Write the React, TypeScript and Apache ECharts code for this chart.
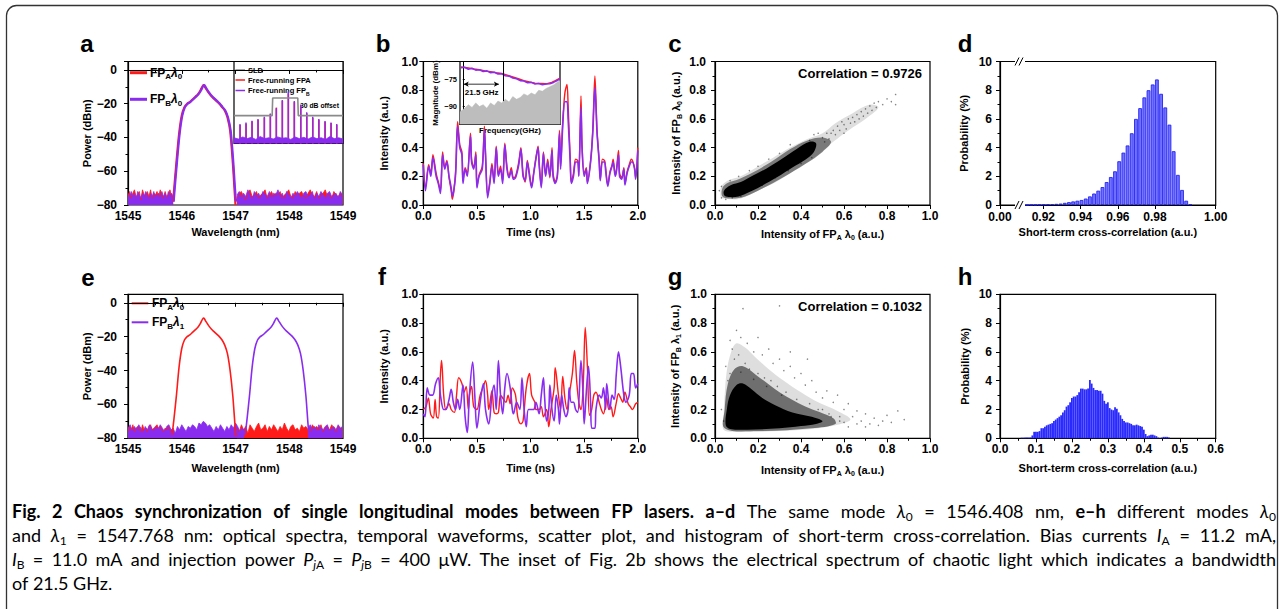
import React, { useEffect, useRef } from "react";
import * as echarts from "echarts";

// ================= DATA =================
// Panel a: optical spectra, same mode
const aRedPeak = [[1545.84,-78],[1545.86,-70],[1545.9,-55],[1545.95,-38],[1546.0,-27],[1546.05,-22],[1546.1,-20],[1546.15,-19],[1546.2,-17.5],[1546.25,-16],[1546.3,-14.5],[1546.35,-12],[1546.39,-9.5],[1546.41,-9],[1546.44,-10.5],[1546.5,-13.5],[1546.55,-15.5],[1546.6,-17],[1546.65,-18.5],[1546.7,-20],[1546.75,-22],[1546.8,-24],[1546.85,-28],[1546.9,-36],[1546.95,-55],[1546.98,-70],[1547.0,-80]];
const aPurplePeak = [[1545.85,-78],[1545.87,-70],[1545.91,-55],[1545.96,-38],[1546.01,-27],[1546.06,-22],[1546.11,-20],[1546.16,-19],[1546.21,-17.5],[1546.26,-16],[1546.31,-14.5],[1546.36,-12],[1546.4,-9.5],[1546.42,-9],[1546.45,-10.5],[1546.51,-13.5],[1546.56,-15.5],[1546.61,-17],[1546.66,-18.5],[1546.71,-20],[1546.76,-22],[1546.81,-24],[1546.86,-28],[1546.91,-36],[1546.96,-55],[1546.99,-70],[1547.01,-78]];
const noiseXL = [1545.00,1545.03,1545.06,1545.09,1545.12,1545.15,1545.18,1545.21,1545.24,1545.27,1545.30,1545.33,1545.36,1545.39,1545.42,1545.45,1545.48,1545.51,1545.54,1545.57,1545.60,1545.63,1545.66,1545.69,1545.72,1545.75,1545.78,1545.81,1545.84];
const aPurpleNoiseL = [-73,-76,-72,-75,-73,-77,-72,-74,-76,-73,-75,-72,-74,-77,-73,-75,-72,-76,-74,-73,-76,-72,-75,-73,-77,-72,-74,-73,-75];
const aRedNoiseL = [-75,-72,-76,-73,-71,-75,-74,-72,-77,-71,-74,-75,-72,-75,-71,-76,-73,-74,-72,-75,-71,-74,-76,-72,-75,-74,-71,-75,-76];
const noiseXR = [1547.03,1547.07,1547.11,1547.15,1547.19,1547.23,1547.27,1547.31,1547.35,1547.39,1547.43,1547.47,1547.51,1547.55,1547.59,1547.63,1547.67,1547.71,1547.75,1547.79,1547.83,1547.87,1547.91,1547.95,1547.99,1548.03,1548.07,1548.11,1548.15,1548.19,1548.23,1548.27,1548.31,1548.35,1548.39,1548.43,1548.47,1548.51,1548.55,1548.59,1548.63,1548.67,1548.71,1548.75,1548.79,1548.83,1548.87,1548.91,1548.95,1548.99];
const aPurpleNoiseR = [-74,-72,-76,-73,-75,-71,-74,-77,-72,-75,-73,-76,-72,-74,-75,-72,-76,-73,-74,-71,-75,-73,-77,-72,-74,-76,-73,-75,-72,-74,-76,-73,-72,-75,-74,-72,-77,-73,-75,-72,-74,-76,-73,-72,-75,-74,-73,-76,-72,-74];
const aRedNoiseR = [-76,-73,-72,-75,-77,-73,-71,-75,-74,-72,-76,-74,-73,-71,-76,-74,-72,-75,-73,-74,-72,-76,-74,-73,-71,-75,-76,-72,-74,-73,-72,-75,-76,-73,-71,-74,-75,-72,-76,-74,-73,-71,-75,-74,-76,-72,-74,-75,-73,-75];

// Panel a inset (relative units)
const insetCombX = [5.5,11,16.5,22,27.8,33.3,38.8,44.3,49.8,55.3,61.2,66.7,72.2,77.8,83.5,89,94.2];
const insetFPB = [23.7,25.7,27.8,29.8,32.7,36.7,42.9,53.1,63.3,51.8,46.9,38,32.7,29.8,27.3,25.7,23.7];
const insetFPA = [22.5,24.5,27,29,31.5,36,43.8,52,61,50.5,45.5,37,31.5,29,26.5,25,23];
const insetNoiseX = [0,4,8,12,16,20,24,28,32,36,40,44,48,52,56,60,64,68,72,76,80,84,88,92,96,100];
const insetNoiseB = [7,5.5,8,6,7.5,5,8.5,6,7,5.5,8,6.5,7,5,8,6,7.5,5.5,8,6,7,5,8.5,6,7,5.5];
const insetSLD = [[0,34],[35,34],[35.5,55.5],[58.5,55.5],[59,34],[100,34]];

// Panel b: temporal waveforms (same mode)
const bPurple = [[0.00,0.28],[0.02,0.10],[0.05,0.27],[0.07,0.20],[0.09,0.33],[0.12,0.20],[0.14,0.15],[0.16,0.08],[0.18,0.35],[0.20,0.25],[0.22,0.30],[0.24,0.20],[0.26,0.12],[0.27,0.06],[0.30,0.20],[0.32,0.55],[0.34,0.40],[0.36,0.35],[0.37,0.15],[0.39,0.25],[0.41,0.20],[0.44,0.48],[0.45,0.30],[0.47,0.25],[0.49,0.35],[0.50,0.12],[0.52,0.20],[0.55,0.25],[0.57,0.52],[0.58,0.35],[0.60,0.05],[0.62,0.15],[0.64,0.27],[0.66,0.15],[0.68,0.40],[0.70,0.20],[0.72,0.25],[0.74,0.15],[0.76,0.42],[0.78,0.25],[0.80,0.19],[0.82,0.24],[0.84,0.18],[0.86,0.19],[0.89,0.28],[0.91,0.39],[0.93,0.20],[0.95,0.17],[0.97,0.30],[0.99,0.20],[1.01,0.12],[1.03,0.22],[1.05,0.32],[1.07,0.40],[1.08,0.28],[1.10,0.12],[1.12,0.36],[1.14,0.20],[1.16,0.30],[1.18,0.20],[1.20,0.38],[1.21,0.20],[1.23,0.15],[1.25,0.20],[1.27,0.50],[1.28,0.25],[1.30,0.55],[1.32,0.72],[1.34,0.72],[1.35,0.60],[1.37,0.30],[1.38,0.15],[1.40,0.20],[1.42,0.30],[1.44,0.30],[1.45,0.20],[1.47,0.68],[1.48,0.40],[1.50,0.20],[1.52,0.25],[1.53,0.15],[1.56,0.30],[1.58,0.50],[1.60,0.82],[1.62,0.50],[1.64,0.30],[1.65,0.17],[1.67,0.30],[1.69,0.30],[1.70,0.24],[1.72,0.13],[1.74,0.22],[1.76,0.27],[1.77,0.30],[1.79,0.20],[1.80,0.23],[1.82,0.35],[1.83,0.20],[1.85,0.18],[1.87,0.25],[1.88,0.14],[1.90,0.22],[1.92,0.27],[1.94,0.30],[1.95,0.30],[1.97,0.25],[1.98,0.18],[2.00,0.38]];
const bRed = [[0.00,0.29],[0.02,0.12],[0.05,0.28],[0.07,0.22],[0.09,0.35],[0.12,0.22],[0.14,0.16],[0.16,0.10],[0.18,0.37],[0.20,0.26],[0.22,0.31],[0.24,0.19],[0.26,0.10],[0.27,0.04],[0.30,0.22],[0.32,0.58],[0.34,0.42],[0.36,0.37],[0.37,0.17],[0.39,0.26],[0.41,0.22],[0.44,0.50],[0.45,0.32],[0.47,0.26],[0.49,0.37],[0.50,0.13],[0.52,0.21],[0.55,0.27],[0.57,0.55],[0.58,0.36],[0.60,0.07],[0.62,0.16],[0.64,0.29],[0.66,0.16],[0.68,0.41],[0.70,0.21],[0.72,0.27],[0.74,0.17],[0.76,0.43],[0.78,0.27],[0.80,0.20],[0.82,0.26],[0.84,0.19],[0.86,0.20],[0.89,0.30],[0.91,0.40],[0.93,0.22],[0.95,0.16],[0.97,0.31],[0.99,0.22],[1.01,0.13],[1.03,0.23],[1.05,0.33],[1.07,0.41],[1.08,0.30],[1.10,0.13],[1.12,0.37],[1.14,0.21],[1.16,0.32],[1.18,0.19],[1.20,0.40],[1.21,0.22],[1.23,0.16],[1.25,0.21],[1.27,0.52],[1.28,0.27],[1.30,0.58],[1.32,0.78],[1.34,0.84],[1.35,0.70],[1.37,0.32],[1.38,0.16],[1.40,0.22],[1.42,0.32],[1.44,0.31],[1.45,0.21],[1.47,0.76],[1.48,0.42],[1.50,0.22],[1.52,0.26],[1.53,0.16],[1.56,0.31],[1.58,0.52],[1.60,0.90],[1.62,0.52],[1.64,0.31],[1.65,0.18],[1.67,0.32],[1.69,0.31],[1.70,0.26],[1.72,0.14],[1.74,0.23],[1.76,0.28],[1.77,0.32],[1.79,0.21],[1.80,0.24],[1.82,0.38],[1.83,0.22],[1.85,0.19],[1.87,0.26],[1.88,0.15],[1.90,0.23],[1.92,0.28],[1.94,0.32],[1.95,0.31],[1.97,0.26],[1.98,0.19],[2.00,0.40]];

// Panel b inset: electrical spectrum
const bInsetPurple = [[-1,-68.5],[1,-68.2],[3,-69.3],[5,-68.8],[7,-69.8],[9,-69.6],[11,-70.6],[13,-70.2],[15,-71.2],[17,-71],[19,-71.9],[21,-71.8],[23,-72.9],[25,-73.1],[27,-74.2],[29,-74.6],[31,-75.6],[33,-75.8],[35,-76.8],[37,-76.6],[39,-77.5],[41,-77.2],[43,-77.9],[45,-77.5],[47,-77.4],[49,-76.6],[51,-75.6],[52.5,-74.5]];
const bInsetRed = [[-1,-68],[3,-68.6],[6,-69.2],[9,-69.6],[12,-70.2],[15,-70.6],[18,-71.2],[21,-71.6],[24,-72.6],[27,-73.6],[30,-74.6],[33,-75.6],[36,-76.4],[39,-77],[42,-77.2],[45,-77.4],[48,-76.6],[50,-75.6],[52.5,-74.2]];
const bInsetNoise = [[-1.5,-93],[1,-91],[3,-89],[5,-90.5],[7,-88],[9,-90],[11,-89],[13,-91],[15,-88],[17,-89.5],[19,-87],[21,-88],[23,-86],[25,-87.5],[27,-84.5],[29,-86],[31,-85],[33,-83],[35,-84],[37,-82.5],[39,-83.5],[41,-81],[43,-81.5],[45,-80],[47,-79],[49,-78],[51,-76.5],[52.5,-75.5]];
const bInsetBandwidth = [[22,-65],[22,-87]];
const bInsetArrow = [[0.5,-77.6],[19.5,-77.6]];

// Panel c: scatter (same mode) — density outlines and sparse points
const cCore = [[0.045,0.065],[0.07,0.055],[0.11,0.06],[0.16,0.09],[0.21,0.127],[0.29,0.195],[0.36,0.262],[0.42,0.315],[0.46,0.37],[0.47,0.43],[0.44,0.44],[0.38,0.39],[0.31,0.32],[0.24,0.255],[0.17,0.2],[0.12,0.16],[0.075,0.14],[0.05,0.115],[0.04,0.09]];
const cMid = [[0.035,0.06],[0.08,0.045],[0.14,0.06],[0.22,0.115],[0.32,0.195],[0.42,0.285],[0.5,0.37],[0.54,0.44],[0.5,0.47],[0.43,0.45],[0.35,0.39],[0.26,0.3],[0.18,0.23],[0.11,0.18],[0.06,0.155],[0.035,0.12]];
const cHalo = [[0.03,0.05],[0.07,0.04],[0.12,0.045],[0.2,0.1],[0.3,0.175],[0.4,0.27],[0.48,0.35],[0.55,0.44],[0.62,0.52],[0.7,0.6],[0.76,0.68],[0.72,0.7],[0.64,0.64],[0.56,0.57],[0.5,0.5],[0.43,0.46],[0.35,0.4],[0.27,0.33],[0.19,0.26],[0.12,0.2],[0.06,0.17],[0.03,0.13],[0.025,0.08]];
const cSparse = [[0.5,0.47],[0.52,0.5],[0.53,0.46],[0.55,0.52],[0.56,0.49],[0.57,0.55],[0.58,0.52],[0.6,0.56],[0.61,0.53],[0.62,0.6],[0.63,0.57],[0.64,0.61],[0.65,0.58],[0.66,0.63],[0.67,0.6],[0.68,0.65],[0.69,0.62],[0.7,0.67],[0.71,0.64],[0.72,0.69],[0.73,0.66],[0.74,0.71],[0.75,0.68],[0.76,0.72],[0.78,0.7],[0.8,0.74],[0.82,0.72],[0.84,0.77],[0.84,0.7],[0.48,0.5],[0.46,0.49],[0.44,0.45],[0.51,0.44],[0.54,0.5],[0.59,0.58],[0.6,0.5],[0.03,0.05],[0.05,0.04],[0.08,0.05],[0.12,0.06],[0.02,0.1],[0.03,0.13],[0.07,0.17],[0.11,0.2],[0.16,0.24],[0.2,0.27],[0.25,0.32],[0.3,0.36],[0.35,0.42],[0.14,0.1],[0.22,0.14],[0.28,0.19],[0.34,0.24],[0.4,0.29],[0.45,0.33]];

// Panel d: histogram of short-term cross-correlation (same mode)
const dBinX = [0.91125,0.9135,0.91575,0.918,0.92025,0.9225,0.92475,0.927,0.92925,0.9315,0.93375,0.936,0.93825,0.9405,0.94275,0.945,0.94725,0.9495,0.95175,0.954,0.95625,0.9585,0.96075,0.963,0.96525,0.9675,0.96975,0.972,0.97425,0.9765,0.97875,0.981,0.98325,0.9855,0.98775,0.99,0.99225,0.9945,0.99675,0.999];
const dProb = [0.01,0.02,0.02,0.03,0.04,0.05,0.06,0.08,0.1,0.15,0.2,0.25,0.3,0.35,0.45,0.6,0.8,1.0,1.25,1.6,1.95,2.35,3.05,3.65,4.15,5.0,6.0,6.75,7.5,8.0,8.4,8.75,7.75,6.8,5.6,3.75,2.1,1.05,0.3,0.05];
const dTickValues = [0.8967,0.92,0.94,0.96,0.98,1.0126];
const dTickLabels = ["0.00","0.92","0.94","0.96","0.98","1.00"];

// Panel e: optical spectra, different modes
const eRedPeak = [[1545.82,-78],[1545.85,-70],[1545.9,-55],[1545.95,-38],[1546.0,-27],[1546.05,-22],[1546.1,-20],[1546.15,-19],[1546.2,-17.5],[1546.25,-16],[1546.3,-14.5],[1546.35,-12],[1546.39,-9.5],[1546.41,-9],[1546.44,-10.5],[1546.5,-13.5],[1546.55,-15.5],[1546.6,-17],[1546.65,-18.5],[1546.7,-20],[1546.75,-22],[1546.8,-25],[1546.85,-30],[1546.9,-40],[1546.95,-55],[1546.99,-72],[1547.01,-79]];
const ePurplePeak = [[1547.18,-78],[1547.21,-70],[1547.26,-55],[1547.31,-38],[1547.36,-27],[1547.41,-22],[1547.46,-20],[1547.51,-19],[1547.56,-17.5],[1547.61,-16],[1547.66,-14.5],[1547.71,-12],[1547.75,-9.5],[1547.77,-9],[1547.8,-10.5],[1547.86,-13.5],[1547.91,-15.5],[1547.96,-17],[1548.01,-18.5],[1548.06,-20],[1548.11,-22],[1548.16,-25],[1548.21,-30],[1548.26,-40],[1548.31,-55],[1548.35,-72],[1548.37,-79]];
const eNoiseXL = [1545.00,1545.04,1545.08,1545.12,1545.16,1545.20,1545.24,1545.28,1545.32,1545.36,1545.40,1545.44,1545.48,1545.52,1545.56,1545.60,1545.64,1545.68,1545.72,1545.76,1545.80,1545.84,1545.88,1545.92,1545.96,1546.00,1546.04,1546.08,1546.12,1546.16,1546.20,1546.24,1546.28,1546.32,1546.36,1546.40,1546.44,1546.48,1546.52,1546.56,1546.60,1546.64,1546.68,1546.72,1546.76,1546.80,1546.84,1546.88,1546.92,1546.96,1547.00,1547.04,1547.08,1547.12,1547.16];
const ePurpleNoiseL = [-74,-72,-76,-73,-75,-72,-74,-77,-73,-75,-72,-74,-76,-73,-75,-72,-74,-76,-73,-72,-75,-74,-77,-73,-75,-72,-74,-76,-73,-74,-72,-73,-75,-71,-72,-70,-71,-73,-72,-74,-76,-73,-75,-72,-74,-76,-73,-75,-72,-74,-71,-73,-76,-74,-75];
const eRedNoiseL = [-76,-73,-75,-72,-76,-74,-73,-75,-76,-72,-75,-74,-76,-73,-72,-75,-74,-73,-72,-74,-73,-75,-76,-74,-75,-73,-75,-76,-74];
const eRedNoiseR = [-74,-76,-72,-75,-73,-77,-72,-74,-76,-73,-71,-75,-74,-72,-76,-73,-75,-72,-74,-76,-73,-75,-71,-74,-76,-73,-72,-75,-74,-76,-72,-74,-73,-75,-76,-72,-74,-73,-75,-72,-76,-74,-73,-75,-72,-74,-76,-73,-74,-75];
const ePurpleNoiseR = [-74,-72,-75,-73,-76,-72,-74,-75,-73,-72,-76,-74,-73,-75,-72,-74,-73];

// Panel f: temporal waveforms (different modes)
const fPurple = [[0.00,0.17],[0.016,0.15],[0.037,0.35],[0.062,0.30],[0.087,0.30],[0.115,0.38],[0.14,0.42],[0.16,0.30],[0.19,0.20],[0.21,0.20],[0.24,0.27],[0.26,0.34],[0.28,0.25],[0.30,0.20],[0.32,0.27],[0.34,0.20],[0.37,0.37],[0.39,0.15],[0.41,0.04],[0.43,0.30],[0.46,0.53],[0.48,0.30],[0.50,0.07],[0.53,0.25],[0.56,0.38],[0.58,0.20],[0.61,0.10],[0.64,0.30],[0.66,0.37],[0.68,0.20],[0.70,0.54],[0.72,0.30],[0.74,0.17],[0.76,0.35],[0.78,0.45],[0.81,0.35],[0.83,0.20],[0.84,0.17],[0.87,0.25],[0.90,0.20],[0.92,0.42],[0.94,0.20],[0.96,0.08],[0.98,0.20],[1.01,0.20],[1.03,0.20],[1.05,0.25],[1.08,0.17],[1.10,0.30],[1.12,0.42],[1.13,0.30],[1.15,0.12],[1.17,0.20],[1.18,0.37],[1.20,0.20],[1.22,0.12],[1.24,0.30],[1.26,0.20],[1.27,0.10],[1.29,0.30],[1.31,0.20],[1.33,0.15],[1.35,0.20],[1.36,0.35],[1.38,0.25],[1.40,0.25],[1.42,0.20],[1.44,0.18],[1.47,0.54],[1.49,0.30],[1.50,0.10],[1.52,0.32],[1.54,0.50],[1.56,0.25],[1.57,0.07],[1.60,0.07],[1.61,0.20],[1.64,0.30],[1.66,0.28],[1.68,0.35],[1.70,0.20],[1.71,0.38],[1.74,0.20],[1.76,0.30],[1.78,0.27],[1.80,0.45],[1.82,0.60],[1.84,0.50],[1.87,0.30],[1.89,0.25],[1.92,0.30],[1.94,0.45],[1.96,0.45],[1.98,0.35],[2.00,0.38]];
const fRed = [[0.00,0.20],[0.025,0.22],[0.047,0.28],[0.068,0.17],[0.093,0.14],[0.11,0.27],[0.124,0.15],[0.14,0.14],[0.16,0.45],[0.17,0.54],[0.19,0.30],[0.21,0.20],[0.24,0.24],[0.26,0.20],[0.29,0.18],[0.31,0.30],[0.33,0.42],[0.36,0.38],[0.38,0.32],[0.40,0.36],[0.42,0.20],[0.43,0.30],[0.45,0.36],[0.47,0.22],[0.50,0.20],[0.53,0.30],[0.56,0.36],[0.58,0.40],[0.60,0.30],[0.61,0.20],[0.64,0.33],[0.66,0.18],[0.68,0.17],[0.70,0.18],[0.72,0.30],[0.74,0.28],[0.77,0.25],[0.79,0.30],[0.81,0.24],[0.83,0.35],[0.86,0.30],[0.88,0.15],[0.91,0.10],[0.93,0.12],[0.96,0.35],[0.99,0.45],[1.01,0.30],[1.04,0.25],[1.05,0.20],[1.08,0.20],[1.10,0.22],[1.12,0.15],[1.15,0.20],[1.17,0.08],[1.19,0.20],[1.22,0.35],[1.23,0.49],[1.26,0.30],[1.28,0.20],[1.30,0.43],[1.32,0.28],[1.34,0.20],[1.36,0.30],[1.39,0.45],[1.41,0.61],[1.43,0.40],[1.45,0.25],[1.47,0.20],[1.49,0.35],[1.51,0.77],[1.53,0.50],[1.55,0.16],[1.57,0.20],[1.59,0.30],[1.61,0.32],[1.64,0.25],[1.66,0.20],[1.68,0.17],[1.71,0.28],[1.73,0.20],[1.75,0.22],[1.77,0.15],[1.80,0.25],[1.82,0.31],[1.84,0.28],[1.86,0.25],[1.88,0.32],[1.91,0.24],[1.93,0.22],[1.95,0.20],[1.98,0.24],[2.00,0.25]];

// Panel g: scatter (different modes) — density outlines and sparse points
const gCore = [[0.05,0.09],[0.07,0.065],[0.15,0.06],[0.3,0.07],[0.4,0.085],[0.47,0.1],[0.5,0.12],[0.45,0.15],[0.36,0.18],[0.28,0.23],[0.22,0.28],[0.17,0.34],[0.13,0.38],[0.1,0.37],[0.07,0.3],[0.055,0.2]];
const gMid = [[0.045,0.07],[0.2,0.05],[0.45,0.07],[0.56,0.1],[0.55,0.14],[0.42,0.22],[0.3,0.32],[0.2,0.43],[0.13,0.5],[0.09,0.48],[0.06,0.38],[0.045,0.2]];
const gHalo = [[0.04,0.06],[0.1,0.045],[0.3,0.05],[0.45,0.065],[0.56,0.09],[0.63,0.13],[0.57,0.19],[0.48,0.25],[0.4,0.32],[0.32,0.4],[0.25,0.48],[0.19,0.56],[0.14,0.63],[0.1,0.66],[0.075,0.6],[0.055,0.47],[0.045,0.3],[0.04,0.15]];
const gSparse = [[0.13,0.9],[0.3,0.92],[0.07,0.68],[0.08,0.62],[0.1,0.75],[0.12,0.7],[0.15,0.66],[0.18,0.6],[0.2,0.7],[0.22,0.58],[0.25,0.62],[0.27,0.52],[0.3,0.55],[0.32,0.47],[0.35,0.5],[0.37,0.42],[0.4,0.45],[0.42,0.37],[0.45,0.4],[0.47,0.32],[0.5,0.28],[0.52,0.33],[0.55,0.25],[0.57,0.3],[0.6,0.2],[0.62,0.24],[0.64,0.15],[0.66,0.19],[0.68,0.12],[0.7,0.17],[0.72,0.1],[0.74,0.14],[0.76,0.09],[0.78,0.12],[0.8,0.16],[0.82,0.11],[0.85,0.19],[0.88,0.13],[0.35,0.6],[0.43,0.55],[0.05,0.5],[0.06,0.4],[0.03,0.2],[0.04,0.12],[0.58,0.12],[0.54,0.15],[0.48,0.2],[0.62,0.08],[0.2,0.45],[0.26,0.4],[0.09,0.55],[0.11,0.58],[0.14,0.52],[0.16,0.48],[0.23,0.42],[0.29,0.36],[0.33,0.32],[0.38,0.27],[0.44,0.24],[0.5,0.2],[0.53,0.17],[0.58,0.15],[0.6,0.11],[0.66,0.1],[0.7,0.08],[0.07,0.45],[0.12,0.46],[0.18,0.41],[0.24,0.36],[0.31,0.3]];

// Panel h: histogram (different modes)
const hBinX = [0.06,0.065,0.07,0.075,0.08,0.085,0.09,0.095,0.1,0.105,0.11,0.115,0.12,0.125,0.13,0.135,0.14,0.145,0.15,0.155,0.16,0.165,0.17,0.175,0.18,0.185,0.19,0.195,0.2,0.205,0.21,0.215,0.22,0.225,0.23,0.235,0.24,0.245,0.25,0.255,0.26,0.265,0.27,0.275,0.28,0.285,0.29,0.295,0.3,0.305,0.31,0.315,0.32,0.325,0.33,0.335,0.34,0.345,0.35,0.355,0.36,0.365,0.37,0.375,0.38,0.385,0.39,0.395,0.4,0.405,0.41,0.415,0.42,0.425,0.43,0.435,0.44,0.445,0.45,0.455,0.46,0.465,0.47];
const hProb = [0.04,0.04,0.05,0.05,0.05,0.06,0.2,0.45,0.45,0.45,0.5,0.7,0.7,0.8,0.9,0.95,1.0,1.05,1.2,1.3,1.4,1.5,1.6,1.8,1.95,2.2,2.3,2.5,2.8,2.9,2.9,3.0,3.2,3.45,3.45,3.4,3.4,3.45,4.05,3.8,3.5,3.35,3.35,3.3,3.3,3.1,2.6,2.4,2.5,2.1,2.0,1.95,2.15,2.05,1.8,1.6,1.35,1.2,1.1,1.1,1.05,1.0,0.9,0.9,0.95,0.9,0.85,0.8,0.6,0.3,0.15,0.2,0.25,0.25,0.2,0.15,0.05,0.02,0.05,0.1,0.1,0.1,0.05];

// Caption
const captionLines = [
  "{b|Fig. 2 Chaos synchronization of single longitudinal modes between FP lasers. a–d} The same mode {i|λ}{s|0} = 1546.408 nm, {b|e–h} different modes {i|λ}{s|0}",
  "and {i|λ}{s|1} = 1547.768 nm: optical spectra, temporal waveforms, scatter plot, and histogram of short-term cross-correlation. Bias currents {i|I}{s|A} = 11.2 mA,",
  "{i|I}{s|B} = 11.0 mA and injection power {i|P}{si|j}{s|A} = {i|P}{si|j}{s|B} = 400 μW. The inset of Fig. {l|2}b shows the electrical spectrum of chaotic light which indicates a bandwidth",
  "of 21.5 GHz.",
];

// ================= STYLE / BUILD =================
const FONT = "Liberation Sans";
const CAP_FONT = "Lato";
const RED = "#ff1a1a";
const PURPLE = "#8a2cf0";

const zip = (xs: number[], ys: number[]) => xs.map((x, i) => [x, ys[i]]);

const NAME_RICH = {
  n: { fontFamily: FONT, fontWeight: "bold", fontSize: 11, color: "#000", lineHeight: 15, verticalAlign: "middle" },
  s: { fontFamily: FONT, fontWeight: "bold", fontSize: 7, color: "#000", lineHeight: 10, verticalAlign: "bottom" },
};
const nameStyle = (size = 11) => ({ fontFamily: FONT, fontWeight: "bold", fontSize: size, color: "#000", rich: NAME_RICH });
const AX_LINE = { show: true, lineStyle: { color: "#000", width: 1.2 } };
const TICK = { show: true, length: 4, lineStyle: { color: "#000", width: 1 } };
const MINOR = { show: true, splitNumber: 2, length: 2.5, lineStyle: { color: "#000", width: 1 } };
const lbl = (margin: number, formatter?: any, extra: any = {}) => ({ fontFamily: FONT, fontWeight: "bold", fontSize: 12, color: "#000", margin, formatter, ...extra });
const plainFmt = (v: number) => String(v);
const minusFmt = (v: number) => (v < 0 ? "−" + Math.abs(v) : String(v));
const f1 = (v: number) => v.toFixed(1);

function axisDef(gi: number, min: number, max: number, interval: number | undefined, name: string, nameGap: number, label: any, extra: any = {}) {
  return {
    type: "value", gridIndex: gi, min, max, interval, name, nameLocation: "middle", nameGap,
    nameTextStyle: nameStyle(), axisLine: AX_LINE, axisTick: TICK, minorTick: MINOR,
    splitLine: { show: false }, axisLabel: label, ...extra,
  };
}

function polygonSeries(gi: number, pts: number[][], fill: string, z: number) {
  return {
    type: "custom", xAxisIndex: gi, yAxisIndex: gi, data: pts, z, silent: true, clip: true,
    renderItem: (params: any, api: any) =>
      params.dataIndex === 0
        ? { type: "polygon", shape: { points: pts.map((p) => api.coord(p)), smooth: 0.35 }, style: { fill } }
        : null,
  };
}

const line = (gi: number, data: any, color: string, width: number, extra: any = {}) => ({
  type: "line", xAxisIndex: gi, yAxisIndex: gi, data, symbol: "none", silent: true,
  lineStyle: { color, width }, itemStyle: { color }, ...extra,
});
const noiseArea = (gi: number, data: any, color: string) =>
  line(gi, data, color, 0.8, { areaStyle: { color, opacity: 1, origin: "start" } });

// Caption justification
const CAP_SIZE = 18;
const CAP_STYLES: Record<string, { font: string; rich: any }> = {
  n: { font: `400 ${CAP_SIZE}px ${CAP_FONT}`, rich: { fontFamily: CAP_FONT, fontSize: CAP_SIZE, fontWeight: 400, color: "#231f20", lineHeight: 22, verticalAlign: "middle" } },
  b: { font: `700 ${CAP_SIZE}px ${CAP_FONT}`, rich: { fontFamily: CAP_FONT, fontSize: CAP_SIZE, fontWeight: 700, color: "#231f20", lineHeight: 22, verticalAlign: "middle" } },
  i: { font: `italic 400 ${CAP_SIZE}px ${CAP_FONT}`, rich: { fontFamily: CAP_FONT, fontSize: CAP_SIZE, fontStyle: "italic", color: "#231f20", lineHeight: 22, verticalAlign: "middle" } },
  l: { font: `400 ${CAP_SIZE}px ${CAP_FONT}`, rich: { fontFamily: CAP_FONT, fontSize: CAP_SIZE, color: "#2a6ebb", lineHeight: 22, verticalAlign: "middle" } },
  s: { font: `400 12px ${CAP_FONT}`, rich: { fontFamily: CAP_FONT, fontSize: 12, color: "#231f20", lineHeight: 14, verticalAlign: "bottom" } },
  si: { font: `italic 400 12px ${CAP_FONT}`, rich: { fontFamily: CAP_FONT, fontSize: 12, fontStyle: "italic", color: "#231f20", lineHeight: 14, verticalAlign: "bottom" } },
};
const CAP_RICH: any = Object.fromEntries(Object.entries(CAP_STYLES).map(([k, v]) => [k, v.rich]));

function parseRuns(s: string) {
  const runs: { st: string; t: string }[] = [];
  const re = /\{(\w+)\|([^}]*)\}|([^{]+)/g;
  let m: RegExpExecArray | null;
  while ((m = re.exec(s))) {
    if (m[1]) runs.push({ st: m[1], t: m[2] });
    else runs.push({ st: "n", t: m[3] });
  }
  return runs;
}
function toWords(runs: { st: string; t: string }[]) {
  const words: { st: string; t: string }[][] = [[]];
  for (const r of runs) {
    r.t.split(" ").forEach((p, i) => {
      if (i > 0) words.push([]);
      if (p) words[words.length - 1].push({ st: r.st, t: p });
    });
  }
  return words.filter((w) => w.length);
}

function captionGraphics() {
  const ctx = document.createElement("canvas").getContext("2d")!;
  const measure = (w: { st: string; t: string }[]) =>
    w.reduce((acc, r) => {
      ctx.font = CAP_STYLES[r.st].font;
      return acc + ctx.measureText(r.t).width;
    }, 0);
  ctx.font = CAP_STYLES.n.font;
  const spaceW = ctx.measureText(" ").width;
  const x0 = 12, x1 = 1276;
  const ys = [511, 535, 559, 583];
  const out: any[] = [];
  captionLines.forEach((ln, li) => {
    const words = toWords(parseRuns(ln));
    const widths = words.map(measure);
    const total = widths.reduce((a, b) => a + b, 0);
    const justify = li < captionLines.length - 1;
    const gap = justify ? (x1 - x0 - total) / (words.length - 1) : spaceW;
    let x = x0;
    words.forEach((w, wi) => {
      out.push({
        type: "text", x, y: ys[li], silent: true,
        style: {
          text: w.map((r) => `{${r.st}|${r.t}}`).join(""), rich: CAP_RICH,
          textVerticalAlign: "middle", verticalAlign: "middle", textAlign: "left", align: "left",
        },
      });
      x += widths[wi] + gap;
    });
  });
  return out;
}

const txt = (x: number, y: number, text: string, size: number, extra: any = {}) => ({
  type: "text", x, y, silent: true,
  style: { text, fontFamily: FONT, fontWeight: "bold", fontSize: size, fill: "#000", textVerticalAlign: "middle", verticalAlign: "middle", ...extra },
});
const gline = (x1: number, y1: number, x2: number, y2: number, stroke: string, lineWidth: number) => ({
  type: "line", silent: true, shape: { x1, y1, x2, y2 }, style: { stroke, lineWidth },
});
const LEG_RICH = (size: number) => ({
  n: { fontFamily: FONT, fontWeight: "bold", fontSize: size, color: "#000", lineHeight: size + 4, verticalAlign: "middle" },
  i: { fontFamily: FONT, fontWeight: "bold", fontStyle: "italic", fontSize: size, color: "#000", lineHeight: size + 4, verticalAlign: "middle" },
  s: { fontFamily: FONT, fontWeight: "bold", fontSize: Math.round(size * 0.65), color: "#000", lineHeight: Math.round(size * 0.65) + 2, verticalAlign: "bottom" },
});

function buildOption() {
  const grid = (left: number, top: number, width: number, height: number, bg = "transparent") => ({
    left, top, width, height, show: true, borderColor: "#000", borderWidth: 1.2, backgroundColor: bg, containLabel: false,
  });
  const grids = [
    grid(128, 61.5, 215, 143.5), grid(423.3, 61.5, 214.5, 143.5), grid(715, 61.5, 215, 143.5), grid(1000, 61.5, 215.7, 143.5),
    grid(128, 294.3, 215, 144), grid(423.3, 294.3, 214.5, 144), grid(715, 294.3, 215, 144), grid(1000, 294.3, 215.7, 144),
    grid(234, 61.5, 109, 82, "#fff"), grid(460, 61.5, 100, 63, "#fff"),
  ];

  const cName = "{n|Intensity of FP}{s|A}{n| λ}{s|0}{n| (a.u.)}";
  const cYName = "{n|Intensity of FP}{s|B}{n| λ}{s|0}{n| (a.u.)}";
  const gYName = "{n|Intensity of FP}{s|B}{n| λ}{s|1}{n| (a.u.)}";

  const xAxis: any[] = [
    axisDef(0, 1545, 1549, 1, "Wavelength (nm)", 21, lbl(5, plainFmt)),
    axisDef(1, 0, 2, 0.5, "Time (ns)", 21, lbl(5, f1)),
    axisDef(2, 0, 1, 0.2, cName, 21, lbl(5, f1)),
    axisDef(3, 0.8967, 1.0126, undefined, "Short-term cross-correlation (a.u.)", 21,
      lbl(6, (v: number) => dTickLabels[dTickValues.findIndex((t) => Math.abs(t - v) < 1e-6)] ?? "", { customValues: dTickValues }),
      { axisTick: { ...TICK, customValues: dTickValues }, minorTick: { show: false } }),
    axisDef(4, 1545, 1549, 1, "Wavelength (nm)", 24, lbl(5, plainFmt)),
    axisDef(5, 0, 2, 0.5, "Time (ns)", 24, lbl(5, f1)),
    axisDef(6, 0, 1, 0.2, cName, 24, lbl(5, f1)),
    axisDef(7, 0, 0.6, 0.1, "Short-term cross-correlation (a.u.)", 24, lbl(5, f1)),
    { type: "value", gridIndex: 8, min: 0, max: 100, show: false },
    {
      type: "value", gridIndex: 9, min: -1.5, max: 52.5, name: "Frequency(GHz)", nameLocation: "middle", nameGap: 2,
      nameTextStyle: { fontFamily: FONT, fontWeight: "bold", fontSize: 8, color: "#000", verticalAlign: "top" },
      axisLine: { show: true, lineStyle: { color: "#000", width: 1 } },
      axisTick: { show: true, inside: true, length: 2, customValues: [0, 20, 40], lineStyle: { color: "#000" } },
      axisLabel: { inside: true, margin: 2, fontFamily: FONT, fontWeight: "bold", fontSize: 7.5, color: "#000", customValues: [0, 20, 40] },
      splitLine: { show: false },
    },
  ];
  const yAxis: any[] = [
    axisDef(0, -80, 5, 20, "Power (dBm)", 36, lbl(11, minusFmt, { showMaxLabel: false })),
    axisDef(1, 0, 1, 0.2, "Intensity (a.u.)", 34, lbl(5, f1)),
    axisDef(2, 0, 1, 0.2, cYName, 32, lbl(9, f1)),
    axisDef(3, 0, 10, 2, "Probability (%)", 31, lbl(8)),
    axisDef(4, -80, 5, 20, "Power (dBm)", 36, lbl(11, minusFmt, { showMaxLabel: false })),
    axisDef(5, 0, 1, 0.2, "Intensity (a.u.)", 34, lbl(5, f1)),
    axisDef(6, 0, 1, 0.2, gYName, 33, lbl(8, f1)),
    axisDef(7, 0, 10, 2, "Probability (%)", 30, lbl(8)),
    { type: "value", gridIndex: 8, min: 0, max: 100, show: false },
    {
      type: "value", gridIndex: 9, min: -100, max: -65, name: "Magnitude (dBm)", nameLocation: "middle", nameGap: 21,
      nameTextStyle: { fontFamily: FONT, fontWeight: "bold", fontSize: 8, color: "#000" },
      axisLine: { show: true, lineStyle: { color: "#000", width: 1 } },
      axisTick: { show: true, inside: true, length: 2, customValues: [-90, -75], lineStyle: { color: "#000" } },
      axisLabel: { margin: 3, fontFamily: FONT, fontWeight: "bold", fontSize: 7.5, color: "#000", customValues: [-90, -75], formatter: minusFmt },
      splitLine: { show: false },
    },
  ];

  const series: any[] = [
    // a
    noiseArea(0, zip(noiseXL, aRedNoiseL), RED),
    noiseArea(0, zip(noiseXR, aRedNoiseR), RED),
    noiseArea(0, zip(noiseXL, aPurpleNoiseL), PURPLE),
    noiseArea(0, zip(noiseXR, aPurpleNoiseR), PURPLE),
    line(0, aRedPeak, RED, 2.2, { smooth: 0.3 }),
    line(0, aPurplePeak, PURPLE, 2.2, { smooth: 0.3 }),
    // a inset
    { type: "bar", xAxisIndex: 8, yAxisIndex: 8, data: zip(insetCombX, insetFPA), barWidth: 1.6, itemStyle: { color: RED }, silent: true, barGap: "-100%" },
    { type: "bar", xAxisIndex: 8, yAxisIndex: 8, data: zip(insetCombX, insetFPB), barWidth: 1.4, itemStyle: { color: PURPLE }, silent: true, barGap: "-100%" },
    noiseArea(8, zip(insetNoiseX, insetNoiseB), PURPLE),
    line(8, insetSLD, "#8a8a8a", 1.6),
    // b
    line(1, bRed, RED, 1.4, { smooth: 0.3 }),
    line(1, bPurple, PURPLE, 1.6, { smooth: 0.3 }),
    // b inset
    line(9, bInsetNoise, "#b8b8b8", 0.5, { areaStyle: { color: "#bdbdbd", opacity: 1, origin: "start" } }),
    line(9, bInsetRed, RED, 1.4),
    line(9, bInsetPurple, PURPLE, 1.6),
    line(9, bInsetBandwidth, "#000", 1),
    {
      type: "line", xAxisIndex: 9, yAxisIndex: 9, silent: true, lineStyle: { color: "#000", width: 0.8 }, itemStyle: { color: "#000" },
      data: [
        { value: bInsetArrow[0], symbol: "arrow", symbolSize: [4, 5], symbolRotate: 90 },
        { value: bInsetArrow[1], symbol: "arrow", symbolSize: [4, 5], symbolRotate: -90 },
      ],
    },
    // c
    polygonSeries(2, cHalo, "rgba(0,0,0,0.13)", 1),
    polygonSeries(2, cMid, "rgba(0,0,0,0.45)", 2),
    polygonSeries(2, cCore, "#000", 3),
    { type: "scatter", xAxisIndex: 2, yAxisIndex: 2, data: cSparse, symbolSize: 1.5, itemStyle: { color: "rgba(0,0,0,0.6)" }, silent: true },
    // d
    { type: "bar", xAxisIndex: 3, yAxisIndex: 3, data: zip(dBinX, dProb), barWidth: 3.8, silent: true, itemStyle: { color: "#7272ff", borderColor: "#2424f5", borderWidth: 0.9 } },
    // e
    noiseArea(4, zip(noiseXL, eRedNoiseL), RED),
    noiseArea(4, zip(noiseXR, eRedNoiseR), RED),
    noiseArea(4, zip(eNoiseXL, ePurpleNoiseL), PURPLE),
    noiseArea(4, zip(noiseXR.slice(33), ePurpleNoiseR), PURPLE),
    line(4, eRedPeak, RED, 1.6, { smooth: 0.3 }),
    line(4, ePurplePeak, PURPLE, 1.6, { smooth: 0.3 }),
    // f
    line(5, fRed, RED, 1.4, { smooth: 0.35 }),
    line(5, fPurple, PURPLE, 1.6, { smooth: 0.35 }),
    // g
    polygonSeries(6, gHalo, "rgba(0,0,0,0.13)", 1),
    polygonSeries(6, gMid, "rgba(0,0,0,0.5)", 2),
    polygonSeries(6, gCore, "#000", 3),
    { type: "scatter", xAxisIndex: 6, yAxisIndex: 6, data: gSparse, symbolSize: 1.5, itemStyle: { color: "rgba(0,0,0,0.6)" }, silent: true },
    // h
    { type: "bar", xAxisIndex: 7, yAxisIndex: 7, data: zip(hBinX, hProb), barWidth: 1.8, silent: true, itemStyle: { color: "#2a2aff" } },
  ];

  const legRich12 = LEG_RICH(12);
  const legRich8 = LEG_RICH(8);
  const breakMark = (x: number, y: number) => [
    { type: "rect", silent: true, shape: { x: x - 5, y: y - 3, width: 10, height: 6 }, style: { fill: "#fff" }, z: 100 },
    { ...gline(x - 5, y + 4, x - 1, y - 4, "#000", 1), z: 101 },
    { ...gline(x - 1, y + 4, x + 3, y - 4, "#000", 1), z: 101 },
  ];

  const graphic: any[] = [
    { type: "rect", silent: true, shape: { x: 6.5, y: 5.5, width: 1271, height: 640, r: 10 }, style: { fill: "none", stroke: "#333", lineWidth: 1.3 } },
    // panel letters
    txt(87, 43, "a", 24, { textAlign: "center", align: "center" }),
    txt(383, 43, "b", 24, { textAlign: "center", align: "center" }),
    txt(675, 43, "c", 24, { textAlign: "center", align: "center" }),
    txt(965, 43, "d", 24, { textAlign: "center", align: "center" }),
    txt(88, 277, "e", 24, { textAlign: "center", align: "center" }),
    txt(382, 276, "f", 24, { textAlign: "center", align: "center" }),
    txt(675, 276, "g", 24, { textAlign: "center", align: "center" }),
    txt(965, 276, "h", 24, { textAlign: "center", align: "center" }),
    // a legend
    gline(130, 72.7, 147, 72.7, RED, 3),
    { type: "text", x: 150, y: 72.7, silent: true, style: { text: "{n|FP}{s|A}{i|λ}{s|0}", rich: legRich12, verticalAlign: "middle", textVerticalAlign: "middle" } },
    gline(130, 99.3, 147, 99.3, PURPLE, 3),
    { type: "text", x: 150, y: 99.3, silent: true, style: { text: "{n|FP}{s|B}{i|λ}{s|0}", rich: legRich12, verticalAlign: "middle", textVerticalAlign: "middle" } },
    // a inset legend
    gline(235.5, 70, 245, 70, "#8a8a8a", 1.5),
    txt(248, 70, "SLD", 7.5),
    gline(235.5, 80, 245, 80, RED, 1.5),
    txt(248, 80, "Free-running FPA", 7.5),
    gline(235.5, 90.5, 245, 90.5, PURPLE, 1.5),
    { type: "text", x: 248, y: 90.5, silent: true, style: { text: "{n|Free-running FP}{s|B}", rich: LEG_RICH(7.5), verticalAlign: "middle", textVerticalAlign: "middle" } },
    txt(300, 105.5, "30 dB offset", 6.8),
    // b inset texts
    txt(481.7, 92.3, "21.5 GHz", 8, { textAlign: "center", align: "center" }),
    txt(537.5, 101.7, "Noise floor", 8, { textAlign: "center", align: "center" }),
    // correlations
    txt(922, 73.3, "Correlation = 0.9726", 13, { textAlign: "right", align: "right" }),
    txt(922, 306.7, "Correlation = 0.1032", 13, { textAlign: "right", align: "right" }),
    // e legend
    gline(131.7, 303.3, 148.3, 303.3, RED, 2),
    { type: "text", x: 152, y: 303.3, silent: true, style: { text: "{n|FP}{s|A}{i|λ}{s|0}", rich: legRich12, verticalAlign: "middle", textVerticalAlign: "middle" } },
    gline(131.7, 322.3, 148.3, 322.3, PURPLE, 2),
    { type: "text", x: 152, y: 322.3, silent: true, style: { text: "{n|FP}{s|B}{i|λ}{s|1}", rich: legRich12, verticalAlign: "middle", textVerticalAlign: "middle" } },
    // d axis break marks
    ...breakMark(1020, 61.5),
    ...breakMark(1020, 205),
    ...captionGraphics(),
  ];
  void legRich8;

  return {
    animation: false,
    backgroundColor: "#fff",
    textStyle: { fontFamily: FONT },
    grid: grids,
    xAxis,
    yAxis,
    series,
    graphic,
  };
}

export default function App() {
  const ref = useRef<HTMLDivElement>(null);
  useEffect(() => {
    const chart = echarts.init(ref.current!, null, { renderer: "svg" });
    chart.setOption(buildOption() as any);
    return () => chart.dispose();
  }, []);
  return <div ref={ref} style={{ position: "absolute", left: 0, top: 0, width: 1284, height: 609, background: "#fff" }} />;
}
